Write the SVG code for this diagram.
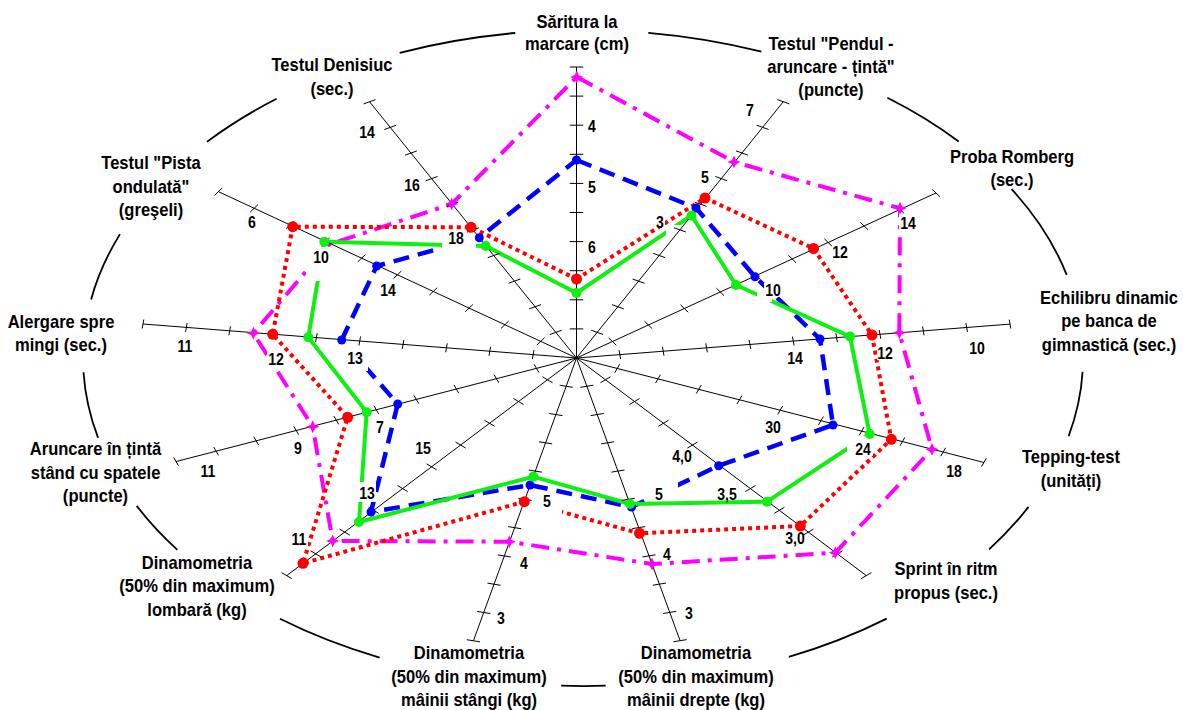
<svg xmlns="http://www.w3.org/2000/svg" xmlns:xlink="http://www.w3.org/1999/xlink" width="1183" height="710" viewBox="0 0 1183 710">
<style>
.arc{fill:none;stroke:#000;stroke-width:1.8}
.ax{fill:none;stroke:#000;stroke-width:1}
.s{fill:none;stroke-linejoin:round}
.mg{stroke:#ff00ff;stroke-width:4;stroke-dasharray:18 8 4 8}
.rd{stroke:#ff0000;stroke-width:4;stroke-dasharray:4 4}
.bl{stroke:#0000ff;stroke-width:4.5;stroke-dasharray:16 9}
.gr{stroke:#10f010;stroke-width:4}
.bg{fill:#fff}
.cat{font-family:'Liberation Sans',Arial,sans-serif;font-weight:bold;font-size:18px;text-anchor:middle;fill:#000}
.tl{font-family:'Liberation Sans',Arial,sans-serif;font-weight:bold;font-size:16px;text-anchor:middle;fill:#000}
</style>
<defs>
<path id="axis" vector-effect="non-scaling-stroke" d="M0 0V-291M-4.5-29.1H4.5M-4.5-58.2H4.5M-4.5-87.3H4.5M-4.5-116.4H4.5M-4.5-145.5H4.5M-4.5-174.6H4.5M-4.5-203.7H4.5M-4.5-232.8H4.5M-4.5-261.9H4.5M-4.5-291H4.5"/>
<path id="star" d="M0-6.5L2-2L6.5 0L2 2L0 6.5L-2 2L-6.5 0L-2-2Z"/>
</defs>
<rect width="1183" height="710" fill="#fff"/>
<g id="frame">
<path class="arc" d="M648.3 32.8A500 328 0 0 1 761.4 51.6M887.4 97.8A500 328 0 0 1 958.7 141.5M1011.6 189.1A500 328 0 0 1 1066.7 274.8M1082.6 371.7A500 328 0 0 1 1068.6 436.2M1028.5 506.9A500 328 0 0 1 989.1 549.4M886.7 618.6A500 328 0 0 1 788.8 656.9M605.7 685.7A500 328 0 0 1 561.2 685.7M379.6 657.6A500 328 0 0 1 280 618.8M177.4 549.9A500 328 0 0 1 136.7 505.9M98.1 437.9A500 328 0 0 1 83.5 372.3M91.1 299.4A500 328 0 0 1 120 234.1M206.9 141.9A500 328 0 0 1 276.6 98.8M399.7 52.8A500 328 0 0 1 515.2 33"/>
</g>
<g id="connectors">
<polygon class="s mg" points="576.7,77 734,162 900,208.3 899.3,332.7 932,449.3 835.3,552.7 652,564 509.3,541.7 332.7,541 312.7,426.7 253.3,333.3 329,244.5 451.7,204"/>
<polygon class="s rd" points="576.5,279 705,198 813.5,248.5 872,335 891.3,439.3 800.3,526 639.5,533.3 524.3,501.7 303,563.3 347.7,417.3 272.7,334.3 292.7,226.7 471,227.3"/>
<polygon class="s bl" points="576.5,160 696,208 755,276.7 820,339 833,425 718.7,465.7 631.5,507 530,485 371,512 397.7,404 341.7,340 376.7,266 479.3,237.7"/>
<polygon class="s gr" points="576.5,293 691.5,215.5 736,285 850,336.5 869.7,434 767,501.7 630,504 533.3,476.7 359,522 366.7,412.3 308.3,337.3 324.3,241.7 485.7,246"/>
</g>
<g id="label-backgrounds">
<rect class="bg" x="587" y="119" width="10" height="14"/>
<rect class="bg" x="587" y="180" width="10" height="14"/>
<rect class="bg" x="587" y="240" width="10" height="14"/>
<rect class="bg" x="745" y="103" width="10" height="14"/>
<rect class="bg" x="700" y="170" width="10" height="14"/>
<rect class="bg" x="655" y="215" width="10" height="11"/>
<rect class="bg" x="666" y="225" width="19" height="11"/>
<rect class="bg" x="899" y="212" width="18" height="18"/>
<rect class="bg" x="831" y="245" width="18" height="14"/>
<rect class="bg" x="764" y="283" width="18" height="14"/>
<rect class="bg" x="757" y="293" width="15" height="9"/>
<rect class="bg" x="968" y="341" width="18" height="14"/>
<rect class="bg" x="877" y="346" width="16" height="14"/>
<rect class="bg" x="786" y="351" width="18" height="14"/>
<rect class="bg" x="945" y="464" width="18" height="14"/>
<rect class="bg" x="847" y="436" width="26" height="20"/>
<rect class="bg" x="764" y="420" width="18" height="14"/>
<rect class="bg" x="784" y="531" width="22" height="14"/>
<rect class="bg" x="716" y="487" width="22" height="13"/>
<rect class="bg" x="671" y="449" width="22" height="14"/>
<rect class="bg" x="662" y="547" width="10" height="14"/>
<rect class="bg" x="654" y="487" width="10" height="13"/>
<rect class="bg" x="644" y="480" width="34" height="19"/>
<rect class="bg" x="684" y="606" width="10" height="14"/>
<rect class="bg" x="542" y="494" width="10" height="14"/>
<rect class="bg" x="529" y="500" width="33" height="14"/>
<rect class="bg" x="519" y="556" width="10" height="14"/>
<rect class="bg" x="496" y="611" width="10" height="14"/>
<rect class="bg" x="290" y="532" width="18" height="14"/>
<rect class="bg" x="358" y="482" width="18" height="20"/>
<rect class="bg" x="414" y="441" width="18" height="14"/>
<rect class="bg" x="375" y="420" width="10" height="14"/>
<rect class="bg" x="293" y="441" width="10" height="14"/>
<rect class="bg" x="199" y="464" width="18" height="14"/>
<rect class="bg" x="344" y="344" width="24" height="27"/>
<rect class="bg" x="267" y="352" width="18" height="14"/>
<rect class="bg" x="176" y="339" width="18" height="14"/>
<rect class="bg" x="306" y="247" width="28" height="34"/>
<rect class="bg" x="379" y="283" width="18" height="14"/>
<rect class="bg" x="247" y="215" width="10" height="14"/>
<rect class="bg" x="442" y="231" width="34" height="19"/>
<rect class="bg" x="403" y="178" width="18" height="14"/>
<rect class="bg" x="358" y="125" width="18" height="14"/>
</g>
<g id="axes" transform="translate(576.5 358) scale(1.5 1)" class="ax">
<use xlink:href="#axis" href="#axis"/>
<use xlink:href="#axis" href="#axis" transform="rotate(28.28)"/>
<use xlink:href="#axis" href="#axis" transform="rotate(55.45)"/>
<use xlink:href="#axis" href="#axis" transform="rotate(83.31)"/>
<use xlink:href="#axis" href="#axis" transform="rotate(111.04)"/>
<use xlink:href="#axis" href="#axis" transform="rotate(138.4)"/>
<use xlink:href="#axis" href="#axis" transform="rotate(166.27)"/>
<use xlink:href="#axis" href="#axis" transform="rotate(193.66)"/>
<use xlink:href="#axis" href="#axis" transform="rotate(221.6)"/>
<use xlink:href="#axis" href="#axis" transform="rotate(248.8) scale(0.984)"/>
<use xlink:href="#axis" href="#axis" transform="rotate(276.71)"/>
<use xlink:href="#axis" href="#axis" transform="rotate(304.87)"/>
<use xlink:href="#axis" href="#axis" transform="rotate(331.7)"/>
</g>
<g id="markers-magenta" fill="#ff00ff">
<use href="#star" xlink:href="#star" x="576.7" y="77"/>
<use href="#star" xlink:href="#star" x="734" y="162"/>
<use href="#star" xlink:href="#star" x="900" y="208.3"/>
<use href="#star" xlink:href="#star" x="899.3" y="332.7"/>
<use href="#star" xlink:href="#star" x="932" y="449.3"/>
<use href="#star" xlink:href="#star" x="835.3" y="552.7"/>
<use href="#star" xlink:href="#star" x="652" y="564"/>
<use href="#star" xlink:href="#star" x="509.3" y="541.7"/>
<use href="#star" xlink:href="#star" x="332.7" y="541"/>
<use href="#star" xlink:href="#star" x="312.7" y="426.7"/>
<use href="#star" xlink:href="#star" x="253.3" y="333.3"/>
<use href="#star" xlink:href="#star" x="451.7" y="204"/>
</g>
<g id="markers-red" fill="#ff0000">
<circle cx="576.5" cy="279" r="5.5"/><circle cx="705" cy="198" r="5.5"/><circle cx="813.5" cy="248.5" r="5.5"/><circle cx="872" cy="335" r="5.5"/><circle cx="891.3" cy="439.3" r="5.5"/><circle cx="800.3" cy="526" r="5.5"/><circle cx="639.5" cy="533.3" r="5.5"/><circle cx="524.3" cy="501.7" r="5.5"/><circle cx="303" cy="563.3" r="5.5"/><circle cx="347.7" cy="417.3" r="5.5"/><circle cx="272.7" cy="334.3" r="5.5"/><circle cx="292.7" cy="226.7" r="5.5"/><circle cx="471" cy="227.3" r="5.5"/>
</g>
<g id="markers-blue" fill="#0000ff">
<circle cx="576.5" cy="160" r="4.5"/><circle cx="696" cy="208" r="4.5"/><circle cx="755" cy="276.7" r="4.5"/><circle cx="820" cy="339" r="4.5"/><circle cx="833" cy="425" r="4.5"/><circle cx="718.7" cy="465.7" r="4.5"/><circle cx="631.5" cy="507" r="4.5"/><circle cx="530" cy="485" r="4.5"/><circle cx="371" cy="512" r="4.5"/><circle cx="397.7" cy="404" r="4.5"/><circle cx="341.7" cy="340" r="4.5"/><circle cx="376.7" cy="266" r="4.5"/><circle cx="479.3" cy="237.7" r="4.5"/>
</g>
<g id="markers-green" fill="#10f010">
<circle cx="576.5" cy="293" r="5"/><circle cx="691.5" cy="215.5" r="5"/><circle cx="736" cy="285" r="5"/><circle cx="850" cy="336.5" r="5"/><circle cx="869.7" cy="434" r="5"/><circle cx="767" cy="501.7" r="5"/><circle cx="630" cy="504" r="5"/><circle cx="533.3" cy="476.7" r="5"/><circle cx="359" cy="522" r="5"/><circle cx="366.7" cy="412.3" r="5"/><circle cx="308.3" cy="337.3" r="5"/><circle cx="324.3" cy="241.7" r="5"/><circle cx="485.7" cy="246" r="5"/>
</g>
<g id="tick-labels" class="tl">
<text transform="translate(592 0) scale(0.88 1)" y="131.7">4</text>
<text transform="translate(592 0) scale(0.88 1)" y="192.7">5</text>
<text transform="translate(592 0) scale(0.88 1)" y="252.7">6</text>
<text transform="translate(750 0) scale(0.88 1)" y="115.7">7</text>
<text transform="translate(705 0) scale(0.88 1)" y="182.7">5</text>
<text transform="translate(660 0) scale(0.88 1)" y="227.7">3</text>
<text transform="translate(908 0) scale(0.88 1)" y="228.7">14</text>
<text transform="translate(840 0) scale(0.88 1)" y="257.7">12</text>
<text transform="translate(773 0) scale(0.88 1)" y="295.7">10</text>
<text transform="translate(977 0) scale(0.88 1)" y="353.7">10</text>
<text transform="translate(885 0) scale(0.88 1)" y="358.7">12</text>
<text transform="translate(795 0) scale(0.88 1)" y="363.7">14</text>
<text transform="translate(954 0) scale(0.88 1)" y="476.7">18</text>
<text transform="translate(863 0) scale(0.88 1)" y="454.7">24</text>
<text transform="translate(773 0) scale(0.88 1)" y="432.7">30</text>
<text transform="translate(795 0) scale(0.88 1)" y="543.7">3,0</text>
<text transform="translate(727 0) scale(0.88 1)" y="499.7">3,5</text>
<text transform="translate(682 0) scale(0.88 1)" y="461.7">4,0</text>
<text transform="translate(667 0) scale(0.88 1)" y="559.7">4</text>
<text transform="translate(659 0) scale(0.88 1)" y="499.7">5</text>
<text transform="translate(689 0) scale(0.88 1)" y="618.7">3</text>
<text transform="translate(547 0) scale(0.88 1)" y="506.7">5</text>
<text transform="translate(524 0) scale(0.88 1)" y="568.7">4</text>
<text transform="translate(501 0) scale(0.88 1)" y="623.7">3</text>
<text transform="translate(299 0) scale(0.88 1)" y="544.7">11</text>
<text transform="translate(367 0) scale(0.88 1)" y="498.7">13</text>
<text transform="translate(423 0) scale(0.88 1)" y="453.7">15</text>
<text transform="translate(380 0) scale(0.88 1)" y="432.7">7</text>
<text transform="translate(298 0) scale(0.88 1)" y="453.7">9</text>
<text transform="translate(208 0) scale(0.88 1)" y="476.7">11</text>
<text transform="translate(355 0) scale(0.88 1)" y="363.7">13</text>
<text transform="translate(276 0) scale(0.88 1)" y="364.7">12</text>
<text transform="translate(185 0) scale(0.88 1)" y="351.7">11</text>
<text transform="translate(321 0) scale(0.88 1)" y="262.7">10</text>
<text transform="translate(388 0) scale(0.88 1)" y="295.7">14</text>
<text transform="translate(252 0) scale(0.88 1)" y="227.7">6</text>
<text transform="translate(456 0) scale(0.88 1)" y="243.7">18</text>
<text transform="translate(412 0) scale(0.88 1)" y="190.7">16</text>
<text transform="translate(367 0) scale(0.88 1)" y="137.7">14</text>
</g>
<g id="node-saritura" class="cat"><text transform="translate(577 0) scale(0.92 1)"><tspan x="0" y="28">Săritura la</tspan><tspan x="0" y="50">marcare (cm)</tspan></text></g>
<g id="node-pendul" class="cat"><text transform="translate(831 0) scale(0.92 1)"><tspan x="0" y="50">Testul "Pendul -</tspan><tspan x="0" y="73">aruncare - țintă"</tspan><tspan x="0" y="96">(puncte)</tspan></text></g>
<g id="node-romberg" class="cat"><text transform="translate(1012 0) scale(0.92 1)"><tspan x="0" y="163">Proba Romberg</tspan><tspan x="0" y="186">(sec.)</tspan></text></g>
<g id="node-echilibru" class="cat"><text transform="translate(1109 0) scale(0.92 1)"><tspan x="0" y="304">Echilibru dinamic</tspan><tspan x="0" y="327.5">pe banca de</tspan><tspan x="0" y="351">gimnastică (sec.)</tspan></text></g>
<g id="node-tepping" class="cat"><text transform="translate(1071 0) scale(0.92 1)"><tspan x="0" y="463.5">Tepping-test</tspan><tspan x="0" y="487">(unități)</tspan></text></g>
<g id="node-sprint" class="cat"><text transform="translate(946 0) scale(0.92 1)"><tspan x="0" y="575.5">Sprint în ritm</tspan><tspan x="0" y="599">propus (sec.)</tspan></text></g>
<g id="node-dreapta" class="cat"><text transform="translate(696 0) scale(0.92 1)"><tspan x="0" y="659.5">Dinamometria</tspan><tspan x="0" y="683">(50% din maximum)</tspan><tspan x="0" y="706">mâinii drepte (kg)</tspan></text></g>
<g id="node-stanga" class="cat"><text transform="translate(469 0) scale(0.92 1)"><tspan x="0" y="659.5">Dinamometria</tspan><tspan x="0" y="683">(50% din maximum)</tspan><tspan x="0" y="706">mâinii stângi (kg)</tspan></text></g>
<g id="node-lombara" class="cat"><text transform="translate(197 0) scale(0.92 1)"><tspan x="0" y="569">Dinamometria</tspan><tspan x="0" y="592.5">(50% din maximum)</tspan><tspan x="0" y="616">lombară (kg)</tspan></text></g>
<g id="node-aruncare" class="cat"><text transform="translate(95.5 0) scale(0.92 1)"><tspan x="0" y="455.5">Aruncare în țintă</tspan><tspan x="0" y="479">stând cu spatele</tspan><tspan x="0" y="502.5">(puncte)</tspan></text></g>
<g id="node-alergare" class="cat"><text transform="translate(61 0) scale(0.92 1)"><tspan x="0" y="328">Alergare spre</tspan><tspan x="0" y="351.5">mingi (sec.)</tspan></text></g>
<g id="node-pista" class="cat"><text transform="translate(151 0) scale(0.92 1)"><tspan x="0" y="169.5">Testul "Pista</tspan><tspan x="0" y="193">ondulată"</tspan><tspan x="0" y="216.5">(greşeli)</tspan></text></g>
<g id="node-denisiuc" class="cat"><text transform="translate(332 0) scale(0.92 1)"><tspan x="0" y="71.5">Testul Denisiuc</tspan><tspan x="0" y="95">(sec.)</tspan></text></g>
</svg>
